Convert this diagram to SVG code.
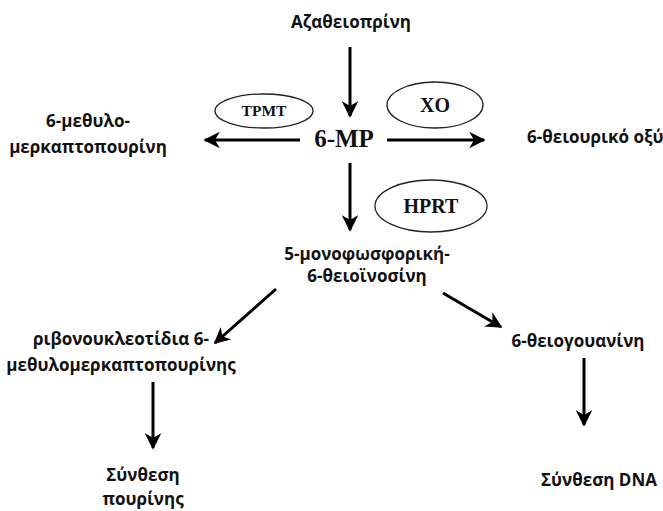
<svg xmlns="http://www.w3.org/2000/svg" width="663" height="511" viewBox="0 0 663 511">
<defs>
<marker id="ah" viewBox="0 0 10 10" refX="9" refY="5" markerWidth="5.5" markerHeight="5.5" markerUnits="strokeWidth" orient="auto">
<path d="M0,0 L10,5 L0,10 L3,5 Z" fill="#000"/>
</marker>
<style>
.t{font-family:"Open Sans","DejaVu Sans",sans-serif;font-weight:bold;font-size:17px;fill:#111}
.s{font-family:"Liberation Serif","Times New Roman",serif;font-weight:bold;fill:#111}
.e{fill:#fff;stroke:#222;stroke-width:1.3}
.c{stroke:#000;stroke-width:3;fill:none;marker-end:url(#ah)}
</style>
</defs>
<rect width="663" height="511" fill="#fff"/>
<g id="connectors">
<line class="c" x1="350" y1="47" x2="350" y2="116"/>
<line class="c" x1="300" y1="140" x2="205" y2="140"/>
<line class="c" x1="387" y1="140" x2="484" y2="140"/>
<line class="c" x1="350" y1="163" x2="350" y2="230"/>
<line class="c" x1="276" y1="289" x2="215" y2="343"/>
<line class="c" x1="443" y1="293" x2="501" y2="327"/>
<line class="c" x1="153" y1="382" x2="153" y2="448"/>
<line class="c" x1="584" y1="358" x2="584" y2="425"/>
</g>
<g id="azathioprine"><text class="t" x="351" y="28" text-anchor="middle">Αζαθειοπρίνη</text></g>
<g id="tpmt"><ellipse class="e" cx="264" cy="111" rx="49" ry="17"/><text class="s" x="264" y="116" font-size="15.5" text-anchor="middle">TPMT</text></g>
<g id="xo"><ellipse class="e" cx="435" cy="105" rx="48" ry="23"/><text class="s" x="435" y="112" font-size="20" text-anchor="middle">XO</text></g>
<g id="mp"><text class="s" x="344" y="147" font-size="25" text-anchor="middle">6-MP</text></g>
<g id="methylmp"><text class="t" x="88" y="127" text-anchor="middle">6-μεθυλο-</text><text class="t" x="88" y="153" text-anchor="middle">μερκαπτοπουρίνη</text></g>
<g id="thiouric"><text class="t" x="527" y="143">6-θειουρικό οξύ</text></g>
<g id="hprt"><ellipse class="e" cx="431" cy="206" rx="56" ry="26"/><text class="s" x="431" y="213" font-size="20" text-anchor="middle">HPRT</text></g>
<g id="timp"><text class="t" x="367" y="260" text-anchor="middle">5-μονοφωσφορική-</text><text class="t" x="367" y="282" text-anchor="middle">6-θειοϊνοσίνη</text></g>
<g id="mmpr"><text class="t" x="121" y="345" text-anchor="middle">ριβονουκλεοτίδια 6-</text><text class="t" x="121" y="371" text-anchor="middle">μεθυλομερκαπτοπουρίνης</text></g>
<g id="tgn"><text class="t" x="578" y="347" text-anchor="middle">6-θειογουανίνη</text></g>
<g id="purine"><text class="t" x="143" y="481" text-anchor="middle">Σύνθεση</text><text class="t" x="143" y="505" text-anchor="middle">πουρίνης</text></g>
<g id="dna"><text class="t" x="599" y="486" text-anchor="middle">Σύνθεση DNA</text></g>
</svg>
